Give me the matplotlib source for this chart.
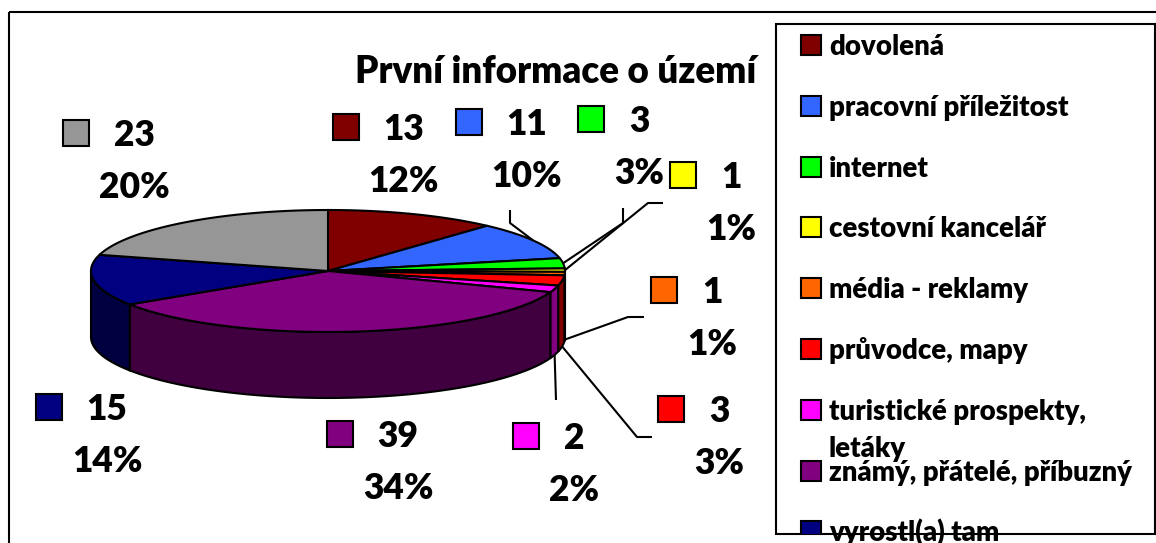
import numpy as np
import matplotlib.pyplot as plt
from matplotlib.patches import Polygon, Rectangle

plt.rcParams['font.family'] = ['Lato', 'DejaVu Sans']
plt.rcParams['font.weight'] = 'heavy'

title = 'První informace o území'
categories = ['dovolená', 'pracovní příležitost', 'internet', 'cestovní kancelář',
              'média - reklamy', 'průvodce, mapy', 'turistické prospekty,\nletáky',
              'známý, přátelé, příbuzný', 'vyrostl(a) tam', 'jiné']
values = [13, 11, 3, 1, 1, 3, 2, 39, 15, 23]
pct_labels = ['12%', '10%', '3%', '1%', '1%', '3%', '2%', '34%', '14%', '20%']
colors = ['#800000', '#3366ff', '#00ff00', '#ffff00', '#ff6600',
          '#ff0000', '#ff00ff', '#800080', '#000080', '#969696']

# layout (pixels, y down)
W, H = 1156, 543
cx, cy, rx, ry, depth = 328, 271, 237, 61, 66
label_pos = [(404, 140), (527, 135), (639, 132), (731, 188), (712, 303),
             (719, 422), (574, 449), (398, 447), (107, 420), (134, 146)]
leader_pts = {1: [(510, 210), (510, 223)], 2: [(623, 208), (623, 223)],
              3: [(663, 203), (648, 203)], 4: [(644, 317), (628, 317)],
              5: [(652, 437), (637, 437)], 6: [(556, 400)]}

fig = plt.figure(figsize=(W / 100, H / 100), dpi=100)
ax = fig.add_axes([0, 0, 1, 1])
ax.set_xlim(0, W)
ax.set_ylim(H, 0)
ax.axis('off')


def rim(t):
    return cx + rx * np.sin(t), cy - ry * np.cos(t)


def shade(c, f=0.5):
    rgb = np.array(plt.matplotlib.colors.to_rgb(c))
    return tuple(rgb * f)


total = sum(values)
bounds = np.concatenate([[0], np.cumsum(values)]) / total * 2 * np.pi

# side walls (front half only)
for i, c in enumerate(colors):
    a, b = max(bounds[i], np.pi / 2), min(bounds[i + 1], 3 * np.pi / 2)
    if b <= a:
        continue
    t = np.linspace(a, b, 60)
    x, y = rim(t)
    xs = np.concatenate([x, x[::-1]])
    ys = np.concatenate([y, (y + depth)[::-1]])
    ax.add_patch(Polygon(np.column_stack([xs, ys]), closed=True, fc=shade(c),
                         ec='black', lw=1.5, zorder=1))

# top faces
for i, c in enumerate(colors):
    t = np.linspace(bounds[i], bounds[i + 1], 80)
    x, y = rim(t)
    xs = np.concatenate([[cx], x])
    ys = np.concatenate([[cy], y])
    ax.add_patch(Polygon(np.column_stack([xs, ys]), closed=True, fc=c,
                         ec='black', lw=1.5, zorder=2))

# leader lines
for i, pts in leader_pts.items():
    mid = (bounds[i] + bounds[i + 1]) / 2
    ex, ey = rim(mid)
    if np.pi / 2 < mid < 3 * np.pi / 2:
        ey += depth
    xs = [p[0] for p in pts] + [ex]
    ys = [p[1] for p in pts] + [ey]
    ax.plot(xs, ys, color='black', lw=1.5, zorder=3, solid_capstyle='butt')

# data labels
fig.canvas.draw()
renderer = fig.canvas.get_renderer()
for i, (lx, ly) in enumerate(label_pos):
    t = ax.text(lx, ly, str(values[i]), ha='center', va='baseline', fontsize=25.5,
                zorder=4)
    ax.text(lx, ly + 52, pct_labels[i], ha='center', va='baseline', fontsize=25.5,
            zorder=4)
    w = t.get_window_extent(renderer).width
    ax.add_patch(Rectangle((lx - w / 2 - 25 - 26, ly - 26), 26, 26, fc=colors[i],
                           ec='black', lw=1.5, zorder=4))

# title
ax.text(556, 83, title, ha='center', va='baseline', fontsize=26.5)

# outer frame and legend box
ax.add_patch(Rectangle((9, 12), W + 20, H + 20, fill=False, ec='black', lw=1.5,
                       zorder=0))
leg = Rectangle((776, 24), 379, 510, fc='white', ec='black', lw=1.5, zorder=5)
ax.add_patch(leg)
for i, name in enumerate(categories):
    yb = 55 + 60.8 * i
    sq = ax.add_patch(Rectangle((801, yb - 20), 20, 20, fc=colors[i], ec='black',
                                lw=1.5, zorder=6))
    sq.set_clip_path(leg)
    for k, line in enumerate(name.split('\n')):
        tx = ax.text(829, yb + 37 * k, line, ha='left', va='baseline',
                     fontsize=19.8, zorder=6)
        tx.set_clip_path(leg)

fig.savefig('out.png', dpi=100)
